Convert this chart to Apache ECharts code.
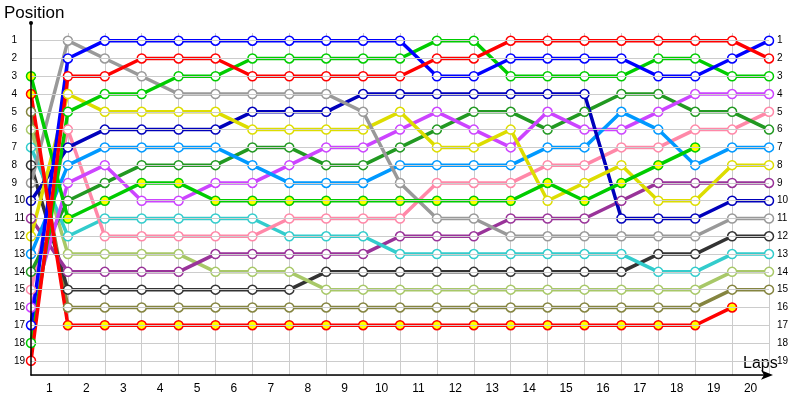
<!DOCTYPE html>
<html><head><meta charset="utf-8">
<script src="https://cdn.jsdelivr.net/npm/echarts@6/dist/echarts.min.js"></script>
<style>html,body{margin:0;padding:0;background:#fff}#c{width:800px;height:400px}</style>
</head><body><div id="c"></div>
<script>
// Laps (0 = start grid)
const laps = [0,1,2,3,4,5,6,7,8,9,10,11,12,13,14,15,16,17,18,19,20];
const lapLabels = ['1','2','3','4','5','6','7','8','9','10','11','12','13','14','15','16','17','18','19','20'];
const positionLabels = [1,2,3,4,5,6,7,8,9,10,11,12,13,14,15,16,17,18,19];

// Position of each car per lap
const posBlue       = [17,2,1,1,1,1,1,1,1,1,1,3,3,2,2,2,2,3,3,2,1];
const posRed        = [19,3,3,2,2,2,3,3,3,3,3,2,2,1,1,1,1,1,1,1,2];
const posGreen      = [18,5,4,4,3,3,2,2,2,2,2,1,1,3,3,3,3,2,2,3,3];
const posGray       = [9,1,2,3,4,4,4,4,4,5,9,11,11,12,12,12,12,12,12,11,11];
const posYellow     = [12,4,5,5,5,5,6,6,6,6,5,7,7,6,10,9,8,10,10,8,8];
const posNavy       = [10,7,6,6,6,6,5,5,5,4,4,4,4,4,4,4,11,11,11,10,10];
const posSkyBlue    = [13,8,7,7,7,7,8,9,9,9,8,8,8,8,7,7,5,6,8,7,7];
const posDarkGreen  = [14,10,9,8,8,8,7,7,8,8,7,6,5,5,6,5,4,4,5,5,6];
const posViolet     = [16,9,8,10,10,9,9,8,7,7,6,5,6,7,5,6,6,5,4,4,4];
const posGreenY     = [3,11,10,9,9,10,10,10,10,10,10,10,10,10,9,10,9,8,7,null,null];
const posPink       = [15,6,12,12,12,12,12,11,11,11,11,9,9,9,8,8,7,7,6,6,5];
const posCyan       = [7,12,11,11,11,11,11,12,12,12,13,13,13,13,13,13,13,14,14,13,13];
const posLightGreen = [6,13,13,13,13,14,14,14,15,15,15,15,15,15,15,15,15,15,15,14,14];
const posPurple     = [11,14,14,14,14,13,13,13,13,13,12,12,12,11,11,11,10,9,9,9,9];
const posBlack      = [8,15,15,15,15,15,15,15,14,14,14,14,14,14,14,14,14,13,13,12,12];
const posOlive      = [5,16,16,16,16,16,16,16,16,16,16,16,16,16,16,16,16,16,16,15,15];
const posRedY       = [4,17,17,17,17,17,17,17,17,17,17,17,17,17,17,17,17,17,17,16,null];

const cars = [
  {name:'Olive', pos:posOlive, color:'#858540', fill:'#ffffff'},
  {name:'Black', pos:posBlack, color:'#333333', fill:'#ffffff'},
  {name:'LightGreen', pos:posLightGreen, color:'#a8c868', fill:'#ffffff'},
  {name:'Purple', pos:posPurple, color:'#993399', fill:'#ffffff'},
  {name:'Cyan', pos:posCyan, color:'#33cccc', fill:'#ffffff'},
  {name:'Pink', pos:posPink, color:'#ff88a8', fill:'#ffffff'},
  {name:'DarkGreen', pos:posDarkGreen, color:'#229922', fill:'#ffffff'},
  {name:'Violet', pos:posViolet, color:'#cc44ff', fill:'#ffffff'},
  {name:'SkyBlue', pos:posSkyBlue, color:'#0099ff', fill:'#ffffff'},
  {name:'Navy', pos:posNavy, color:'#0000bb', fill:'#ffffff'},
  {name:'Yellow', pos:posYellow, color:'#dddd00', fill:'#ffffff'},
  {name:'Gray', pos:posGray, color:'#999999', fill:'#ffffff'},
  {name:'GreenY', pos:posGreenY, color:'#00cc00', fill:'#ffff00'},
  {name:'Green', pos:posGreen, color:'#00cc00', fill:'#ffffff'},
  {name:'Blue', pos:posBlue, color:'#0000ff', fill:'#ffffff'},
  {name:'RedY', pos:posRedY, color:'#ff0000', fill:'#ffff00'},
  {name:'Red', pos:posRed, color:'#ff0000', fill:'#ffffff'}
];

const FONT = 'Liberation Sans';
const series = [];
cars.forEach(c => {
  const data = laps.map((l, i) => [l, c.pos[i] == null ? null : c.pos[i]]);
  series.push({
    type:'line', name:c.name, data:data, z:2, xAxisIndex:0, yAxisIndex:0,
    showSymbol:false, symbol:'none',
    lineStyle:{color:c.color, width:3.5},
    itemStyle:{color:c.color},
    emphasis:{disabled:true}, silent:true
  });
});
cars.forEach(c => {
  const data = laps.map((l, i) => [l, c.pos[i]]).filter(d => d[1] != null);
  series.push({
    type:'scatter', name:c.name + '_m', data:data, z:3, xAxisIndex:0, yAxisIndex:0,
    symbol:'circle', symbolSize:9,
    itemStyle:{color:c.fill, borderColor:c.color, borderWidth:1.5, opacity:1},
    emphasis:{disabled:true}, silent:true
  });
});

const chart = echarts.init(document.getElementById('c'));
chart.setOption({
  animation:false,
  backgroundColor:'#ffffff',
  grid:[
    {left:31, right:31, top:22.9, bottom:25, containLabel:false},
    {left:31, right:31, top:33, bottom:25, containLabel:false}
  ],
  xAxis:[{
    type:'value', min:0, max:20, interval:0.5, position:'bottom', gridIndex:0,
    axisLine:{show:true, onZero:false, lineStyle:{color:'#000', width:1.5}, symbol:['none','arrow'], symbolSize:[7,12], symbolOffset:[0,4]},
    axisTick:{show:false},
    axisLabel:{margin:8, color:'#000', fontSize:12, fontFamily:FONT,
      formatter:v => { const k = Math.round(v*2); return (k % 2 === 1) ? lapLabels[(k-1)/2] : ''; }},
    splitLine:{show:false}, z:4
  },{
    type:'value', min:0, max:20, interval:1, gridIndex:1,
    axisLine:{show:false}, axisTick:{show:false}, axisLabel:{show:false},
    splitLine:{show:true, showMinLine:false, lineStyle:{color:'#cccccc', width:1}}
  }],
  yAxis:[{
    type:'value', inverse:true, min:0, max:19.8, interval:1, gridIndex:0,
    axisLine:{show:true, onZero:false, lineStyle:{color:'#000', width:1.5}, symbol:['none','circle'], symbolSize:[4,4]},
    axisTick:{show:false},
    axisLabel:{margin:6, color:'#000', fontSize:10, fontFamily:FONT,
      formatter:v => {
        if (!Number.isInteger(v) || positionLabels.indexOf(v) < 0) return '';
        return v < 10 ? '{s|' + v + '}' : '{d|' + v + '}';
      },
      rich:{s:{fontSize:10, fontFamily:FONT, color:'#000', padding:[0,8,0,0]}, d:{fontSize:10, fontFamily:FONT, color:'#000'}}
    },
    splitLine:{show:true, showMinLine:false, lineStyle:{color:'#cccccc', width:1}}, z:4
  },{
    type:'value', inverse:true, min:0, max:19.8, interval:1, position:'right', gridIndex:0,
    axisLine:{show:false}, axisTick:{show:false}, splitLine:{show:false},
    axisLabel:{margin:8, color:'#000', fontSize:10, fontFamily:FONT, align:'left',
      formatter:v => (Number.isInteger(v) && positionLabels.indexOf(v) >= 0) ? String(v) : ''}
  },{
    type:'value', min:0, max:10, gridIndex:1, show:false
  }],
  graphic:[
    {type:'text', left:4, top:5, style:{text:'Position', fontSize:17, fontFamily:FONT, fill:'#000'}},
    {type:'text', left:743, top:356, style:{text:'Laps', fontSize:16, fontFamily:FONT, fill:'#000'}}
  ],
  series:series
});
</script>
</body></html>
